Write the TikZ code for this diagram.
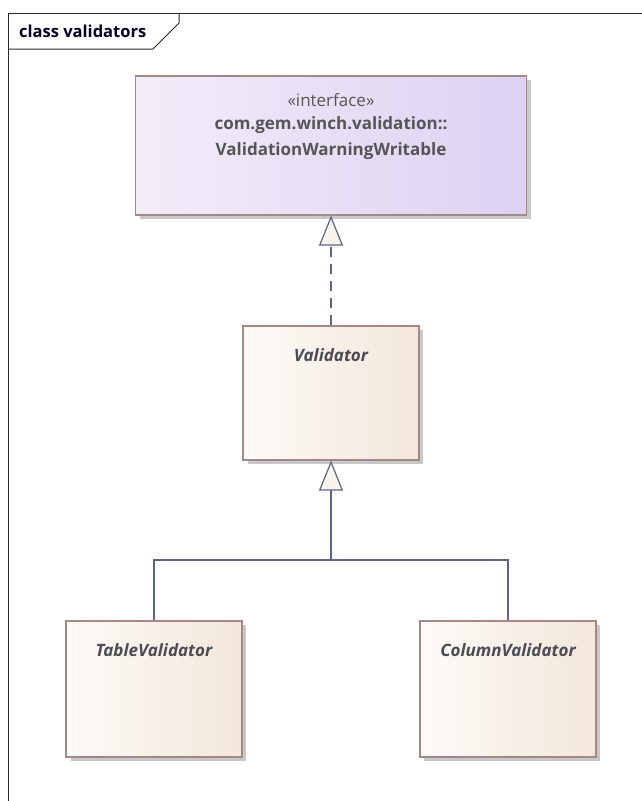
\documentclass[tikz,border=0pt]{standalone}
\usepackage{fontspec}
\setmainfont{Open Sans}
\usetikzlibrary{arrows.meta}

\definecolor{edgeline}{RGB}{92,102,132}
\definecolor{boxborder}{RGB}{164,136,136}
\definecolor{ifaceL}{RGB}{242,237,250}
\definecolor{ifaceR}{RGB}{220,210,242}
\definecolor{classL}{RGB}{253,251,248}
\definecolor{classR}{RGB}{243,230,218}
\definecolor{shadowgray}{RGB}{200,200,200}
\definecolor{ifacetext}{RGB}{85,85,85}
\definecolor{classtext}{RGB}{75,75,85}
\definecolor{framecol}{RGB}{40,40,40}
\definecolor{headfill}{RGB}{250,244,238}

\tikzset{
  umlbox/.style={draw=boxborder, line width=1.2pt, rectangle, inner sep=0pt},
  ifacebox/.style={umlbox, left color=ifaceL, right color=ifaceR},
  classbox/.style={umlbox, left color=classL, right color=classR,
                   minimum width=176pt, minimum height=136pt},
  boxshadow/.style={fill=shadowgray},
  classname/.style={font=\fontsize{17}{20}\selectfont\bfseries\itshape, text=classtext, inner sep=0pt},
  ifacetxt/.style={font=\fontsize{17}{20}\selectfont, text=ifacetext, inner sep=0pt},
  ifacebold/.style={ifacetxt, font=\fontsize{17}{20}\selectfont\bfseries},
  conn/.style={draw=edgeline, line width=1.2pt},
  genhead/.style={-{Triangle[width=24pt,length=30pt,fill=headfill,line width=1.2pt]}},
}

\begin{document}
\begin{tikzpicture}[x=1pt,y=-1pt]
  \useasboundingbox (0,0) rectangle (642,801);

  % diagram frame with its name tab
  \draw[framecol, line width=1pt] (8,801) -- (8,13) -- (642,13);
  \draw[framecol, line width=1pt] (8,49) -- (153,49) -- (179,23) -- (179,13);
  \node[anchor=west, inner sep=0pt, text=black!85!blue,
        font=\fontsize{16.5}{19}\selectfont\bfseries] (title) at (19,31) {class validators};

  % shadows
  \fill[boxshadow] (140,80) rectangle (531,219);
  \fill[boxshadow] (248,330) rectangle (423,464);
  \fill[boxshadow] (71,625) rectangle (246,761);
  \fill[boxshadow] (424,625) rectangle (600,761);

  % interface
  \node[ifacebox, minimum width=391pt, minimum height=139pt] (iface) at (331,145.5) {};
  \node[ifacetxt] (ster) at (331,100) {«interface»};
  \node[ifacebold] (pkg) at (331,125.5) {com.gem.winch.validation::};
  \node[ifacebold] (iname) at (331,151) {ValidationWarningWritable};

  % abstract classes
  \node[classbox, minimum height=134pt] (val) at (331,393) {};
  \node[classname] (valname) at (331,355) {Validator};

  \node[classbox] (tv) at (154,689) {};
  \node[classname] (tvname) at (154,650) {TableValidator};

  \node[classbox] (cv) at (508,689) {};
  \node[classname] (cvname) at (508,650) {ColumnValidator};

  % realization
  \draw[conn, genhead, dash pattern=on 10pt off 7pt] (val.north) -- (iface.south);

  % generalization with shared tree
  \coordinate (bus) at (331,560);
  \draw[conn, genhead] (tv.north) |- (bus) -- (val.south);
  \draw[conn] (cv.north) |- (bus);
\end{tikzpicture}
\end{document}
